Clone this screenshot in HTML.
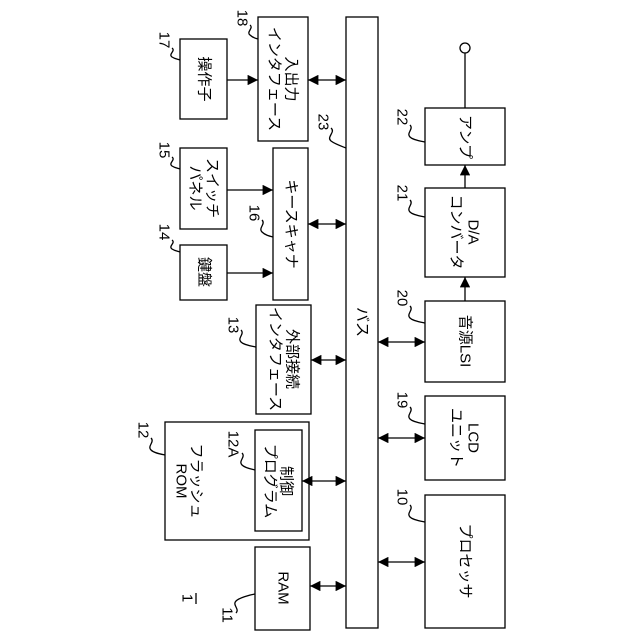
<!DOCTYPE html>
<html><head><meta charset="utf-8"><style>
html,body{margin:0;padding:0;background:#fff}
svg{display:block}
text{font-family:"Liberation Sans","Noto Sans CJK JP",sans-serif;fill:#000}
</style></head><body>
<svg width="640" height="640" viewBox="0 0 640 640" xmlns="http://www.w3.org/2000/svg">
<defs>
<marker id="a" viewBox="0 0 10 10" refX="10" refY="5" markerWidth="8" markerHeight="8" orient="auto-start-reverse"><path d="M0,0 L10,5 L0,10 z" fill="#000"/></marker>
</defs>
<g fill="none" stroke="#000" stroke-width="1.3">
<rect x="346" y="17" width="32" height="611"/>
<rect x="180" y="39" width="47" height="80"/>
<rect x="258" y="17" width="50" height="124"/>
<rect x="180" y="148" width="47" height="81"/>
<rect x="273" y="148" width="35" height="152"/>
<rect x="180" y="245" width="47" height="55"/>
<rect x="256" y="305" width="55" height="109"/>
<rect x="165" y="422" width="144" height="118"/>
<rect x="255" y="430" width="47" height="101"/>
<rect x="255" y="547" width="55" height="83"/>
<rect x="425" y="108" width="80" height="57"/>
<rect x="425" y="188" width="80" height="89"/>
<rect x="425" y="301" width="80" height="81"/>
<rect x="425" y="396" width="80" height="84"/>
<rect x="425" y="495" width="80" height="133"/>
<circle cx="465" cy="48" r="5"/>
<line x1="465" y1="53" x2="465" y2="108"/>
</g>
<g stroke="#000" stroke-width="1.3" fill="none">
<line x1="227" y1="80" x2="258" y2="80" marker-end="url(#a)"/>
<line x1="227" y1="190" x2="273" y2="190" marker-end="url(#a)"/>
<line x1="227" y1="273" x2="273" y2="273" marker-end="url(#a)"/>
<line x1="308" y1="80" x2="346" y2="80" marker-start="url(#a)" marker-end="url(#a)"/>
<line x1="308" y1="224" x2="346" y2="224" marker-start="url(#a)" marker-end="url(#a)"/>
<line x1="311" y1="360" x2="346" y2="360" marker-start="url(#a)" marker-end="url(#a)"/>
<line x1="302" y1="481" x2="346" y2="481" marker-start="url(#a)" marker-end="url(#a)"/>
<line x1="310" y1="586" x2="346" y2="586" marker-start="url(#a)" marker-end="url(#a)"/>
<line x1="378" y1="342" x2="425" y2="342" marker-start="url(#a)" marker-end="url(#a)"/>
<line x1="378" y1="438" x2="425" y2="438" marker-start="url(#a)" marker-end="url(#a)"/>
<line x1="378" y1="562" x2="425" y2="562" marker-start="url(#a)" marker-end="url(#a)"/>
<line x1="465" y1="301" x2="465" y2="277" marker-end="url(#a)"/>
<line x1="465" y1="188" x2="465" y2="165" marker-end="url(#a)"/>
<path d="M172,48 c4,3 -4,6 0,9 c3,2 5,2 8,3"/>
<path d="M250,25 c4,3 -4,7 0,10 c3,3 5,3 8,4"/>
<path d="M172,157 c4,3 -4,6 0,9 c3,2 5,2 8,3"/>
<path d="M172,240 c4,3 -4,6 0,9 c3,2 5,2 8,3"/>
<path d="M262,220 c4,4 -4,8 0,12 c3,3 7,4 11,5"/>
<path d="M331,128 c5,4 -5,9 0,13 c4,3 10,5 15,7"/>
<path d="M410,125 c4,4 -4,8 0,12 c3,3 10,4 15,5"/>
<path d="M410,200 c4,4 -4,8 0,12 c3,3 10,4 15,5"/>
<path d="M410,306 c4,4 -4,8 0,12 c3,3 10,4 15,5"/>
<path d="M410,407 c4,4 -4,8 0,12 c3,3 10,4 15,5"/>
<path d="M410,505 c4,4 -4,8 0,12 c3,3 10,4 15,5"/>
<path d="M241,330 c4,4 -4,8 0,12 c3,3 10,4 15,5"/>
<path d="M151,438 c4,4 -4,8 0,12 c3,3 9,4 14,5"/>
<path d="M242,453 c4,4 -4,8 0,12 c3,3 9,4 13,5"/>
<path d="M236,613 c4,-4 -4,-8 0,-12 c3,-3 13,-6 19,-7"/>
<line x1="196" y1="593" x2="196" y2="604"/>
</g>
<g font-size="15" text-anchor="middle" dominant-baseline="central">
<text transform="translate(204,79) rotate(90)">操作子</text>
<text transform="translate(291,79) rotate(90)">入出力</text>
<text transform="translate(274,79) rotate(90)">インタフェース</text>
<text transform="translate(212,188) rotate(90)">スイッチ</text>
<text transform="translate(195,188) rotate(90)">パネル</text>
<text transform="translate(291,224) rotate(90)">キースキャナ</text>
<text transform="translate(204,272) rotate(90)">鍵盤</text>
<text transform="translate(292,359) rotate(90)">外部接続</text>
<text transform="translate(275,359) rotate(90)">インタフェース</text>
<text transform="translate(196,481) rotate(90)">フラッシュ</text>
<text transform="translate(181,481) rotate(90)">ROM</text>
<text transform="translate(286,481) rotate(90)">制御</text>
<text transform="translate(270,481) rotate(90)">プログラム</text>
<text transform="translate(283,588) rotate(90)">RAM</text>
<text transform="translate(362,322) rotate(90)">バス</text>
<text transform="translate(465,137) rotate(90)">アンプ</text>
<text transform="translate(473,232) rotate(90)">D/A</text>
<text transform="translate(456,232) rotate(90)">コンバータ</text>
<text transform="translate(465,341) rotate(90)">音源LSI</text>
<text transform="translate(473,438) rotate(90)">LCD</text>
<text transform="translate(456,438) rotate(90)">ユニット</text>
<text transform="translate(465,561) rotate(90)">プロセッサ</text>
</g>
<g font-size="15" text-anchor="middle" dominant-baseline="central">
<text transform="translate(164,40) rotate(90)">17</text>
<text transform="translate(242,18) rotate(90)">18</text>
<text transform="translate(164,150) rotate(90)">15</text>
<text transform="translate(164,232) rotate(90)">14</text>
<text transform="translate(254,213) rotate(90)">16</text>
<text transform="translate(323,122) rotate(90)">23</text>
<text transform="translate(402,117) rotate(90)">22</text>
<text transform="translate(402,193) rotate(90)">21</text>
<text transform="translate(402,298) rotate(90)">20</text>
<text transform="translate(402,400) rotate(90)">19</text>
<text transform="translate(402,497) rotate(90)">10</text>
<text transform="translate(233,325) rotate(90)">13</text>
<text transform="translate(143,430) rotate(90)">12</text>
<text transform="translate(233,444) rotate(90)">12A</text>
<text transform="translate(227,615) rotate(90)">11</text>
<text transform="translate(187,598) rotate(90)">1</text>
</g>
</svg>
</body></html>
